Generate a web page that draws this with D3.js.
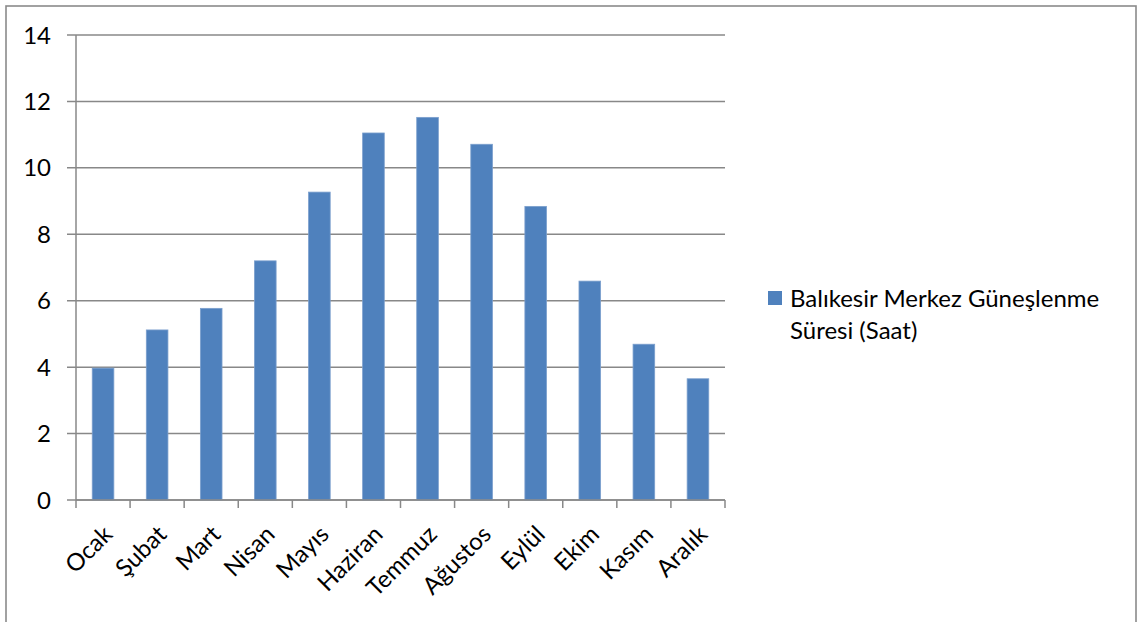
<!DOCTYPE html>
<html><head><meta charset="utf-8">
<script src="https://cdn.jsdelivr.net/npm/d3@7"></script>
<style>body{margin:0;background:#fff}svg{display:block}</style>
</head><body>
<script>
const months = ["Ocak","Şubat","Mart","Nisan","Mayıs","Haziran","Temmuz","Ağustos","Eylül","Ekim","Kasım","Aralık"];
const sunshineHours = [3.97,5.12,5.77,7.2,9.27,11.05,11.52,10.71,8.84,6.59,4.69,3.65];
const yTicks = [0,2,4,6,8,10,12,14];
const seriesName = ["Balıkesir Merkez Güneşlenme","Süresi (Saat)"];

(function(){
const W = 1139, H = 622;
const font = "Lato, 'Open Sans', sans-serif";
const fs = 24;
const svg = d3.select("body").append("svg").attr("width", W).attr("height", H);

// outer frame
svg.append("rect").attr("x",6).attr("y",6).attr("width",1130).attr("height",H+20)
  .attr("fill","#fff").attr("stroke","#8a8a8a").attr("stroke-width",1.6);

const pl = 76, pr = 725, pt = 35, pb = 500;
const x = d3.scaleBand().domain(months).range([pl, pr]).paddingInner(0.6).paddingOuter(0.3);
const xb = d3.scaleBand().domain(months).range([pl, pr]);
const y = d3.scaleLinear().domain([0,14]).range([pb, pt]);

// gridlines
svg.append("g").selectAll("line").data(yTicks).join("line")
  .attr("x1", pl-9).attr("x2", pr).attr("y1", d=>y(d)).attr("y2", d=>y(d))
  .attr("stroke","#888").attr("stroke-width",1.5);

// bars
svg.append("g").selectAll("rect").data(sunshineHours).join("rect")
  .attr("x",(d,i)=>x(months[i])).attr("width",x.bandwidth())
  .attr("y",d=>y(d)).attr("height",d=>pb-y(d))
  .attr("fill","#4f81bd").attr("stroke","#7b9fcd").attr("stroke-width",0.8);

// y axis line
svg.append("line").attr("x1",pl).attr("x2",pl).attr("y1",pt).attr("y2",pb)
  .attr("stroke","#888").attr("stroke-width",1.5);
// x axis line
svg.append("line").attr("x1",pl).attr("x2",pr).attr("y1",pb).attr("y2",pb)
  .attr("stroke","#888").attr("stroke-width",1.5);
// x ticks at band boundaries
const bounds = months.map(m=>xb(m)).concat([pr]);
svg.append("g").selectAll("line").data(bounds).join("line")
  .attr("x1",d=>d).attr("x2",d=>d).attr("y1",pb).attr("y2",pb+8)
  .attr("stroke","#888").attr("stroke-width",1.5);

// y labels
svg.append("g").selectAll("text").data(yTicks).join("text")
  .attr("x",51).attr("y",d=>y(d)).attr("dy","0.36em").attr("text-anchor","end")
  .attr("font-family",font).attr("font-size",fs).attr("fill","#000").text(d=>d);

// x labels
svg.append("g").selectAll("text").data(months).join("text")
  .attr("transform",d=>`translate(${xb(d)+xb.bandwidth()/2-1},${pb+24}) rotate(-45)`)
  .attr("text-anchor","end").attr("dy","0.7em")
  .attr("font-family",font).attr("font-size",fs).attr("fill","#000").text(d=>d);

// legend
svg.append("rect").attr("x",768).attr("y",291).attr("width",14).attr("height",14).attr("fill","#4f81bd");
svg.append("g").selectAll("text").data(seriesName).join("text")
  .attr("x",790).attr("y",(d,i)=>307+i*32)
  .attr("font-family",font).attr("font-size",fs).attr("fill","#000").text(d=>d);
})();
</script>
</body></html>
